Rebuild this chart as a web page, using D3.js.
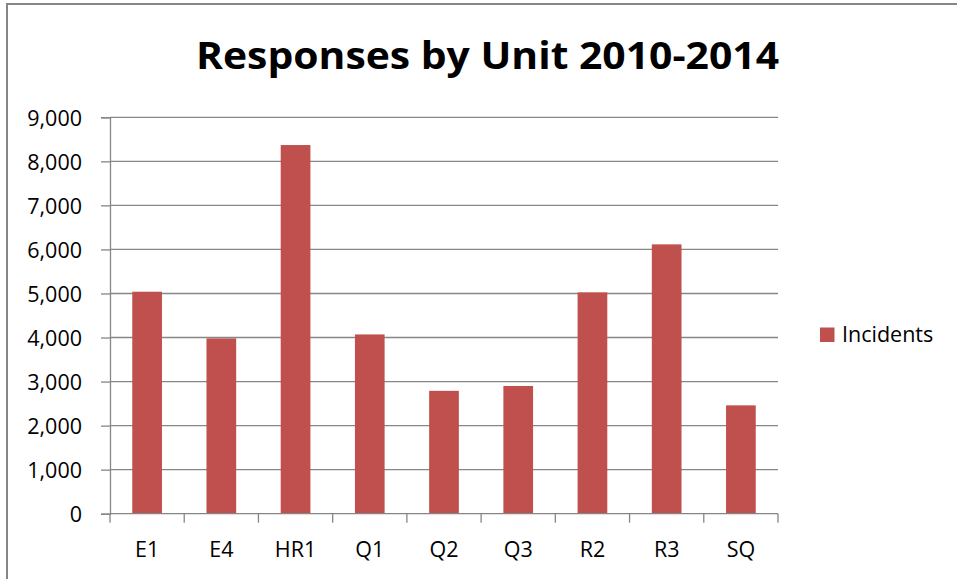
<!DOCTYPE html>
<html>
<head>
<meta charset="utf-8">
<script src="https://cdn.jsdelivr.net/npm/d3@7"></script>
<style>
  html, body { margin: 0; padding: 0; background: #fff; }
  svg { display: block; }
  text { font-family: "Open Sans", Lato, sans-serif; fill: #000; }
</style>
</head>
<body>
<svg id="chart" width="957" height="579"></svg>
<script>
// ---- data ----
const categories = ["E1", "E4", "HR1", "Q1", "Q2", "Q3", "R2", "R3", "SQ"];
const incidents = [5040, 3980, 8370, 4070, 2790, 2900, 5025, 6115, 2460];
const yTicks = [0, 1000, 2000, 3000, 4000, 5000, 6000, 7000, 8000, 9000];
const seriesName = "Incidents";
const titleText = "Responses by Unit 2010-2014";

(function () {
const data = categories.map((c, i) => ({ cat: c, value: incidents[i] }));

const svg = d3.select("#chart");
const W = 957, H = 579;
const plotL = 110, plotR = 778, plotT = 117.3, plotB = 513.7;
const gridColor = "#868686";
const barColor = "#C0504D";
const labelFont = "'Open Sans', sans-serif";
const labelSize = 21.5;

// frame (cropped)
svg.append("path")
  .attr("d", `M7,${H} L7,4 L${W},4`)
  .attr("fill", "none").attr("stroke", gridColor).attr("stroke-width", 2);

const x = d3.scaleBand().domain(categories).range([plotL, plotR])
  .paddingInner(0.6).paddingOuter(0.3);
const xEdge = d3.scaleBand().domain(categories).range([plotL, plotR]).padding(0);
const y = d3.scaleLinear().domain([0, 9000]).range([plotB, plotT]);

// gridlines
svg.append("g").selectAll("line").data(yTicks.filter(t => t > 0)).join("line")
  .attr("x1", plotL).attr("x2", plotR)
  .attr("y1", d => y(d)).attr("y2", d => y(d))
  .attr("stroke", gridColor).attr("stroke-width", 1.3);

// y axis
const yAxis = svg.append("g").attr("transform", `translate(${plotL},0)`)
  .call(d3.axisLeft(y).tickValues(yTicks).tickSize(9).tickPadding(19)
    .tickFormat(d3.format(",")));
yAxis.select(".domain").attr("stroke", gridColor).attr("stroke-width", 1.3);
yAxis.selectAll(".tick line").attr("stroke", gridColor).attr("stroke-width", 1.3);
yAxis.selectAll(".tick text").attr("font-size", labelSize).attr("font-family", labelFont)
  .attr("fill", "#000").attr("dy", "0.36em");

// bars
svg.append("g").selectAll("rect").data(data).join("rect")
  .attr("x", d => x(d.cat)).attr("width", x.bandwidth())
  .attr("y", d => y(d.value)).attr("height", d => y(0) - y(d.value))
  .attr("fill", barColor);

// x axis
const xg = svg.append("g");
xg.append("line").attr("x1", plotL).attr("x2", plotR)
  .attr("y1", y(0)).attr("y2", y(0))
  .attr("stroke", gridColor).attr("stroke-width", 1.3);
const edges = categories.map(c => xEdge(c)).concat([xEdge(categories[categories.length - 1]) + xEdge.bandwidth()]);
xg.selectAll("line.tk").data(edges).join("line").attr("class", "tk")
  .attr("x1", d => d).attr("x2", d => d)
  .attr("y1", y(0)).attr("y2", y(0) + 9)
  .attr("stroke", gridColor).attr("stroke-width", 1.3);
xg.selectAll("text").data(categories).join("text")
  .attr("x", d => x(d) + x.bandwidth() / 2).attr("y", 556.7)
  .attr("text-anchor", "middle").attr("font-size", labelSize)
  .attr("font-family", labelFont).text(d => d);

// title
svg.append("text").attr("x", 196).attr("y", 69)
  .attr("font-size", 38).attr("font-weight", "bold")
  .attr("font-family", "Lato, sans-serif")
  .attr("textLength", 583).attr("lengthAdjust", "spacingAndGlyphs")
  .text(titleText);

// legend
svg.append("rect").attr("x", 820).attr("y", 327.5).attr("width", 14.5).attr("height", 14.5)
  .attr("fill", barColor);
svg.append("text").attr("x", 842).attr("y", 341.7).attr("font-size", labelSize)
  .attr("font-family", labelFont).text(seriesName);
})();
</script>
</body>
</html>
